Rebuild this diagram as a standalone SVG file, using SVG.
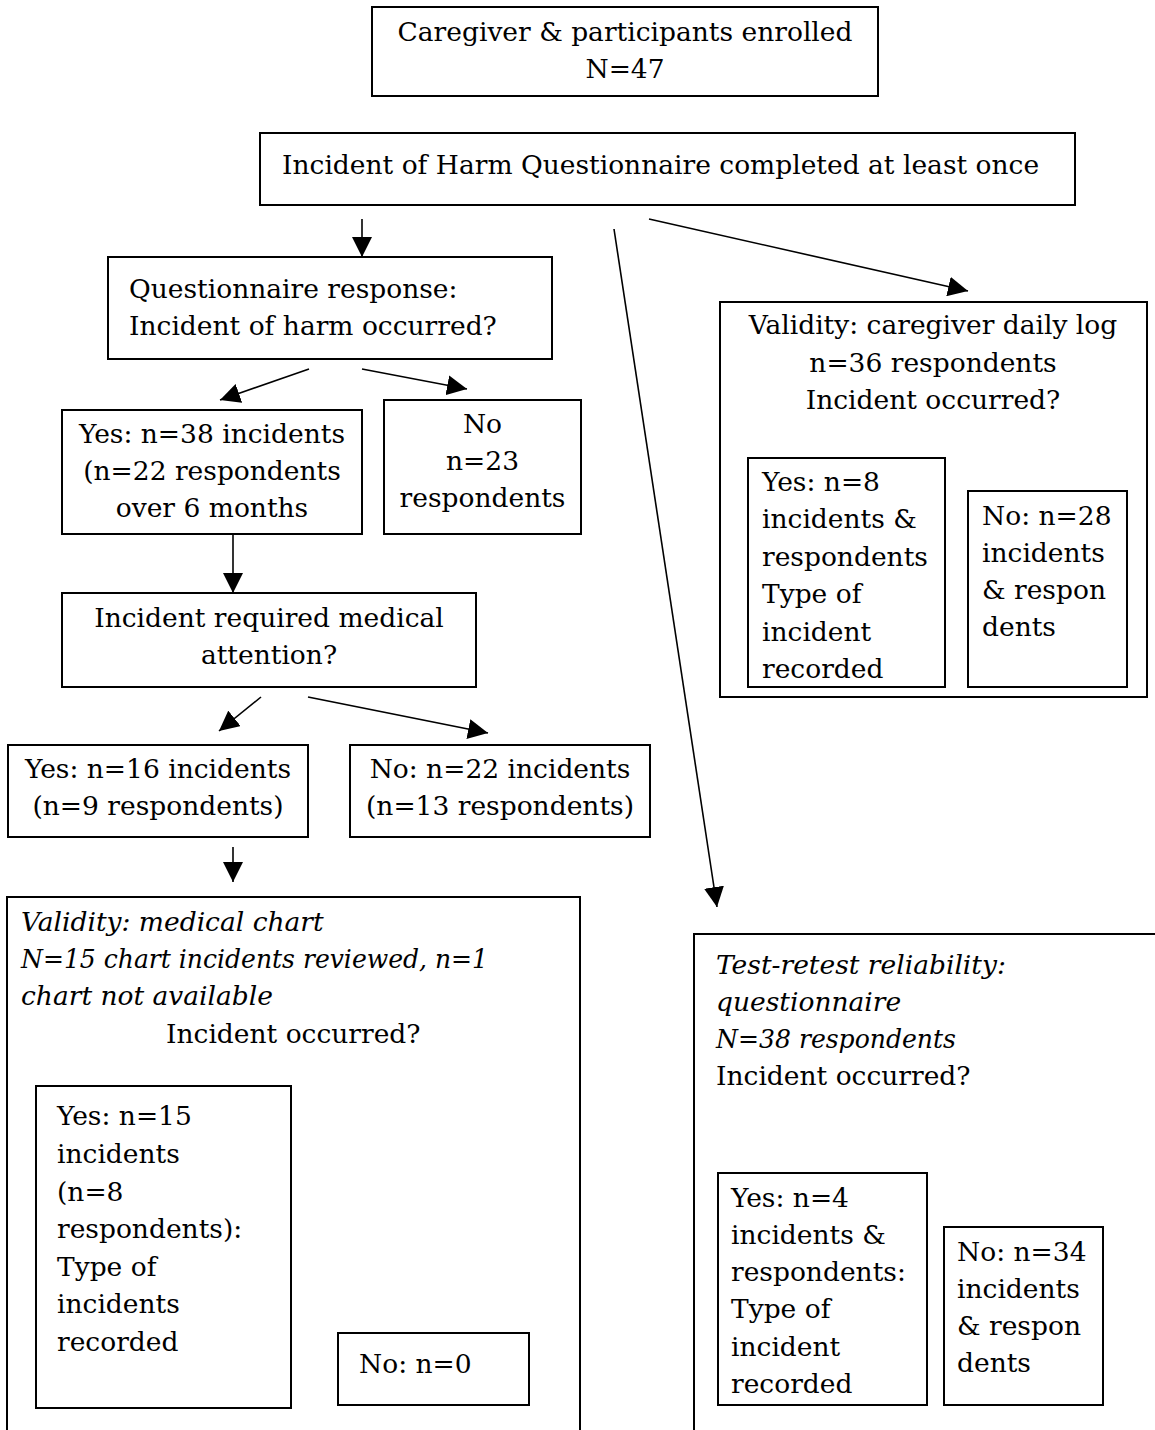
<svg xmlns="http://www.w3.org/2000/svg" width="1155" height="1430" viewBox="0 0 1155 1430">
<style>
rect{fill:none;stroke:#000;stroke-width:2}
text{font-family:"DejaVu Serif","Liberation Serif",serif;font-size:26.5px;fill:#000}
.c{text-anchor:middle}
.i{font-style:italic}
.ln{stroke:#000;stroke-width:1.6;fill:none;marker-end:url(#ah)}
</style>
<defs>
<marker id="ah" markerWidth="20" markerHeight="20" refX="20" refY="10" orient="auto" markerUnits="userSpaceOnUse"><path d="M0,0 L20,10 L0,20 z" fill="#000"/></marker>
</defs>
<rect x="0" y="0" width="1155" height="1430" style="fill:#fff;stroke:none"/>
<g id="enrolled"><rect x="372" y="7" width="506" height="89"/><text class="c" x="625" y="41">Caregiver &amp; participants enrolled</text><text class="c" x="625" y="78">N=47</text></g>
<g id="completed"><rect x="260" y="133" width="815" height="72"/><text x="282" y="174">Incident of Harm Questionnaire completed at least once</text></g>
<g id="response"><rect x="108" y="257" width="444" height="102"/><text x="129" y="298">Questionnaire response:</text><text x="129" y="335">Incident of harm occurred?</text></g>
<g id="yes38"><rect x="62" y="410" width="300" height="124"/><text class="c" x="212" y="443">Yes: n=38 incidents</text><text class="c" x="212" y="480">(n=22 respondents</text><text class="c" x="212" y="517">over 6 months</text></g>
<g id="no23"><rect x="384" y="400" width="197" height="134"/><text class="c" x="482.5" y="433">No</text><text class="c" x="482.5" y="470">n=23</text><text class="c" x="482.5" y="507">respondents</text></g>
<g id="medical"><rect x="62" y="593" width="414" height="94"/><text class="c" x="269" y="627">Incident required medical</text><text class="c" x="269" y="664">attention?</text></g>
<g id="yes16"><rect x="8" y="745" width="300" height="92"/><text class="c" x="158" y="778">Yes: n=16 incidents</text><text class="c" x="158" y="815">(n=9 respondents)</text></g>
<g id="no22"><rect x="350" y="745" width="300" height="92"/><text class="c" x="500" y="778">No: n=22 incidents</text><text class="c" x="500" y="815">(n=13 respondents)</text></g>
<g id="chart"><rect x="7" y="897" width="573" height="560"/>
<text class="i" x="21" y="931">Validity: medical chart</text>
<text class="i" x="21" y="968" textLength="467" lengthAdjust="spacingAndGlyphs">N=15 chart incidents reviewed, n=1</text>
<text class="i" x="21" y="1005">chart not available</text>
<text x="166" y="1043">Incident occurred?</text>
<rect x="36" y="1086" width="255" height="322"/>
<text x="57" y="1125">Yes: n=15</text><text x="57" y="1163">incidents</text><text x="57" y="1201">(n=8</text><text x="57" y="1238">respondents):</text><text x="57" y="1276">Type of</text><text x="57" y="1313">incidents</text><text x="57" y="1351">recorded</text>
<rect x="338" y="1333" width="191" height="72"/><text x="359" y="1373">No: n=0</text>
</g>
<g id="dailylog"><rect x="720" y="302" width="427" height="395"/>
<text class="c" x="933" y="334">Validity: caregiver daily log</text><text class="c" x="933" y="372">n=36 respondents</text><text class="c" x="933" y="409">Incident occurred?</text>
<rect x="748" y="458" width="197" height="229"/>
<text x="762" y="491">Yes: n=8</text><text x="762" y="528">incidents &amp;</text><text x="762" y="566">respondents</text><text x="762" y="603">Type of</text><text x="762" y="641">incident</text><text x="762" y="678">recorded</text>
<rect x="968" y="491" width="159" height="196"/>
<text x="982" y="525">No: n=28</text><text x="982" y="562">incidents</text><text x="982" y="599">&amp; respon</text><text x="982" y="636">dents</text>
</g>
<g id="retest"><rect x="694" y="934" width="480" height="530"/>
<text class="i" x="716" y="974">Test-retest reliability:</text><text class="i" x="716" y="1011">questionnaire</text><text class="i" x="716" y="1048" textLength="240" lengthAdjust="spacingAndGlyphs">N=38 respondents</text><text x="716" y="1085">Incident occurred?</text>
<rect x="718" y="1173" width="209" height="232"/>
<text x="731" y="1207">Yes: n=4</text><text x="731" y="1244">incidents &amp;</text><text x="731" y="1281">respondents:</text><text x="731" y="1318">Type of</text><text x="731" y="1356">incident</text><text x="731" y="1393">recorded</text>
<rect x="944" y="1227" width="159" height="178"/>
<text x="957" y="1261">No: n=34</text><text x="957" y="1298">incidents</text><text x="957" y="1335">&amp; respon</text><text x="957" y="1372">dents</text>
</g>
<g id="connectors">
<line class="ln" x1="362" y1="219" x2="362" y2="257"/>
<line class="ln" x1="309" y1="369" x2="220" y2="400"/>
<line class="ln" x1="362" y1="369" x2="467" y2="389"/>
<line class="ln" x1="233" y1="534" x2="233" y2="593"/>
<line class="ln" x1="261" y1="697" x2="219" y2="731"/>
<line class="ln" x1="308" y1="697" x2="488" y2="733"/>
<line class="ln" x1="233" y1="847" x2="233" y2="882"/>
<line class="ln" x1="614" y1="229" x2="717" y2="907"/>
<line class="ln" x1="649" y1="219" x2="968" y2="291"/>
</g>
</svg>
